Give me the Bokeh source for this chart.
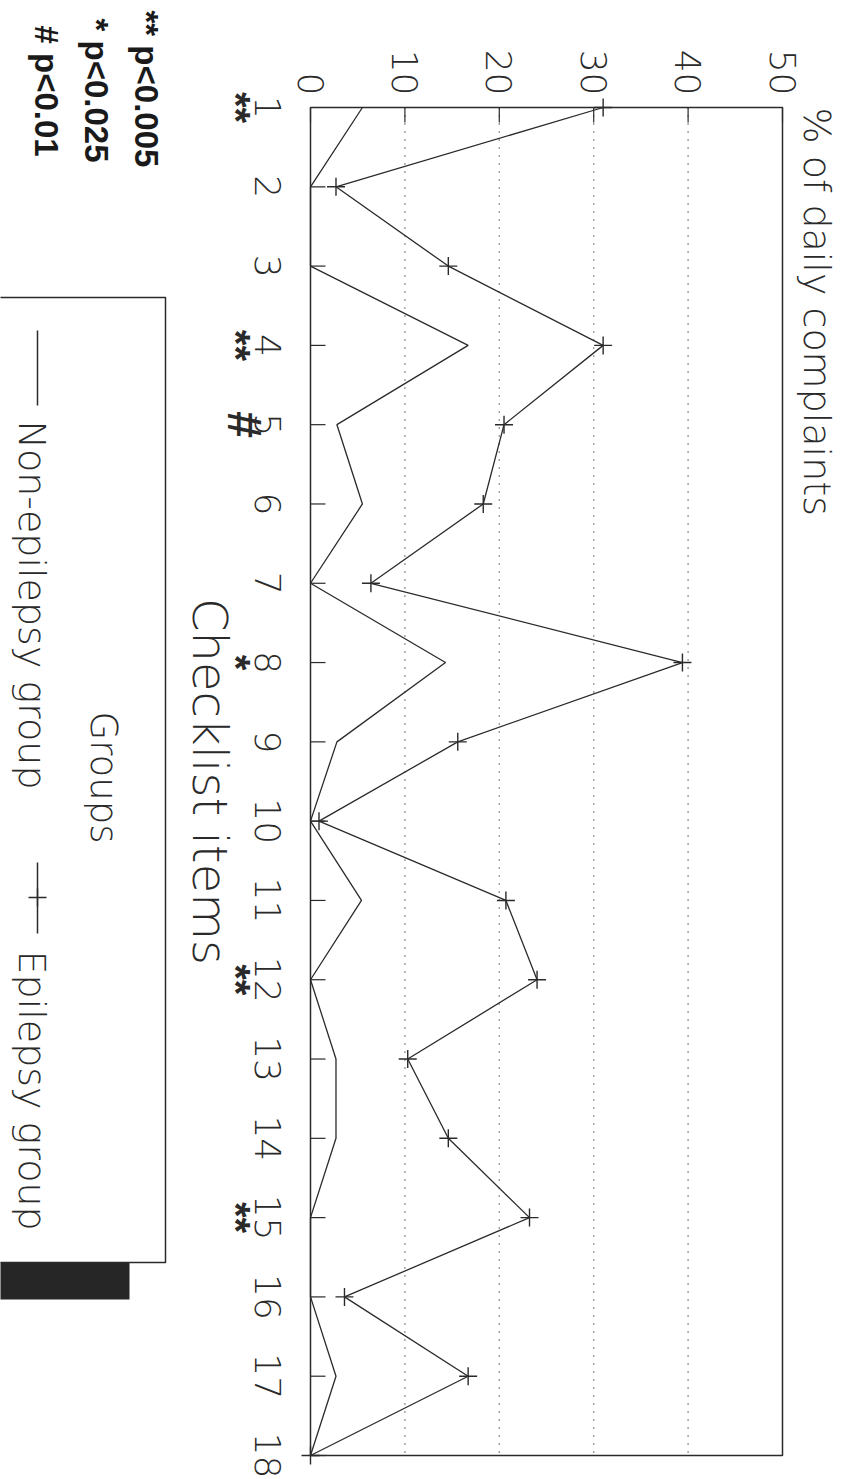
import math
from bokeh.plotting import figure
from bokeh.models import Range1d, ColumnDataSource
from bokeh.embed import file_html
from bokeh.resources import INLINE
from bokeh.core.properties import value

# ---------------- data ----------------
items = list(range(1, 19))
epilepsy = [31.0, 2.7, 14.6, 31.0, 20.5, 18.3, 6.4, 39.4, 15.6, 0.9,
            20.7, 24.0, 10.3, 14.6, 23.2, 3.6, 16.7, 0.0]
non_epilepsy = [5.5, 0.0, 0.0, 16.7, 2.8, 5.5, 0.0, 14.3, 2.8, 0.0,
                5.4, 0.0, 2.7, 2.7, 0.0, 0.0, 2.7, 0.0]
value_ticks = [0, 10, 20, 30, 40, 50]
grid_values = [10, 20, 30, 40]
sig_items = [1, 4, 5, 8, 12, 15]
sig_marks = ["**", "**", "#", "*", "**", "**"]
sig_legend_marks = ["**", "*", "#"]
sig_legend_text = ["p<0.005", "p<0.025", "p<0.01"]
group_names = ["Non-epilepsy group", "Epilepsy group"]
value_title = "% of daily complaints"
item_title = "Checklist items"
legend_title = "Groups"

# ---------------- style / layout (page pixels) ----------------
# The scanned chart is turned a quarter turn clockwise: values run left ->
# right, checklist items run top -> bottom and every text reads downward.
LIGHT = "DejaVu Sans Light"
BOLD = "Liberation Sans"
INK = "#2a2a2a"
W, H = 841, 1479
FR_L, FR_R, FR_T, FR_B = 310, 782, 107, 1455
PX_V = (FR_R - FR_L) / (value_ticks[-1] - value_ticks[0])
PX_I = (FR_B - FR_T) / (items[-1] - items[0])
ROT = -math.pi / 2          # quarter turn clockwise
TICK = 15

p = figure(width=W, height=H, title=None,
           x_range=Range1d(0, W), y_range=Range1d(H, 0),
           x_axis_location=None, y_axis_location=None,
           output_backend="svg", toolbar_location=None, min_border=0)
p.outline_line_color = None
p.background_fill_color = "white"
p.border_fill_color = "white"
p.xgrid.visible = False
p.ygrid.visible = False

# data scales, placed so that the plotting box sits where the reference has it
p.extra_x_ranges = {"val": Range1d(value_ticks[0] - FR_L / PX_V,
                                   value_ticks[0] + (W - FR_L) / PX_V)}
p.extra_y_ranges = {"item": Range1d(items[-1] + (H - FR_B) / PX_I,
                                    items[0] - FR_T / PX_I)}
VI = dict(x_range_name="val", y_range_name="item")

# plotting box and dotted grid
p.quad(left=[value_ticks[0]], right=[value_ticks[-1]], top=[items[0]],
       bottom=[items[-1]], fill_color=None, line_color=INK, line_width=1.5, **VI)
p.segment(x0=grid_values, x1=grid_values,
          y0=[items[0]] * len(grid_values), y1=[items[-1]] * len(grid_values),
          line_color="#444444", line_dash="1 7", line_width=1.5, **VI)

# value axis (top): ticks pointing into the box, labels reading downward
p.segment(x0=value_ticks, x1=value_ticks,
          y0=[FR_T] * len(value_ticks), y1=[FR_T + TICK] * len(value_ticks),
          line_color=INK, line_width=1.2, x_range_name="val")
p.text(x=value_ticks, y=[FR_T - 12] * len(value_ticks),
       text=[str(v) for v in value_ticks], angle=ROT,
       text_align="right", text_baseline="middle",
       text_font=value(LIGHT), text_font_size="36px", text_color=INK,
       x_range_name="val")

# item axis (left)
p.segment(x0=[FR_L] * len(items), x1=[FR_L + TICK] * len(items),
          y0=items, y1=items, line_color=INK, line_width=1.2,
          y_range_name="item")
p.text(x=[267] * len(items), y=items, text=[str(i) for i in items],
       angle=ROT, text_align="center", text_baseline="middle",
       text_font=value(LIGHT), text_font_size="36px", text_color=INK,
       y_range_name="item")

# significance marks beside the item labels
mark_x = {"**": 235, "*": 235, "#": 244}
mark_size = {"**": "40px", "*": "40px", "#": "48px"}
for kind in ("**", "*", "#"):
    sel = [i for i, m in enumerate(sig_marks) if m == kind]
    if not sel:
        continue
    p.text(x=[mark_x[kind]] * len(sel), y=[sig_items[i] for i in sel],
           text=[sig_marks[i] for i in sel],
           angle=ROT, text_align="center", text_baseline="middle",
           text_font=value(BOLD), text_font_style="bold",
           text_font_size=mark_size[kind], text_color=INK,
           y_range_name="item")

# axis titles
p.text(x=[209], y=[(items[0] + items[-1]) / 2], text=[item_title], angle=ROT,
       text_align="center", text_baseline="middle",
       text_font=value(LIGHT), text_font_size="48px", text_color=INK,
       y_range_name="item")
p.text(x=[816], y=[FR_T], text=[value_title], angle=ROT,
       text_align="left", text_baseline="middle",
       text_font=value(LIGHT), text_font_size="38px", text_color=INK)

# data
src = ColumnDataSource(dict(item=items, epi=epilepsy, non=non_epilepsy))
p.line("non", "item", source=src, line_color=INK, line_width=1.3, **VI)
p.line("epi", "item", source=src, line_color=INK, line_width=1.3, **VI)
p.scatter("epi", "item", source=src, marker="cross", size=18,
          line_color=INK, line_width=1.4, **VI)

# significance legend (top left)
p.text(x=[146, 96, 46], y=[10, 18, 25],
       text=[f"{m} {t}" for m, t in zip(sig_legend_marks, sig_legend_text)],
       angle=ROT, text_align="left", text_baseline="middle",
       text_font=value(BOLD), text_font_style="bold", text_font_size="33px",
       text_color="#1a1a1a")

# groups legend box with drop shadow (runs off the left edge)
p.quad(left=[-20], right=[129], top=[1262], bottom=[1299],
       fill_color="#262626", line_color=None)
p.quad(left=[-20], right=[165], top=[297], bottom=[1262],
       fill_color="white", line_color=INK, line_width=1.5)
p.text(x=[103], y=[777], text=[legend_title], angle=ROT,
       text_align="center", text_baseline="middle",
       text_font=value(LIGHT), text_font_size="37px", text_color=INK)
p.segment(x0=[37, 37], y0=[330, 862], x1=[37, 37], y1=[405, 933],
          line_color=INK, line_width=1.5)
p.scatter(x=[37], y=[897], marker="cross", size=18, line_color=INK,
          line_width=1.4)
p.text(x=[31, 31], y=[420, 950], text=group_names, angle=ROT,
       text_align="left", text_baseline="middle",
       text_font=value(LIGHT), text_font_size="38px", text_color=INK)

open("out.html", "w").write(file_html(p, INLINE))
